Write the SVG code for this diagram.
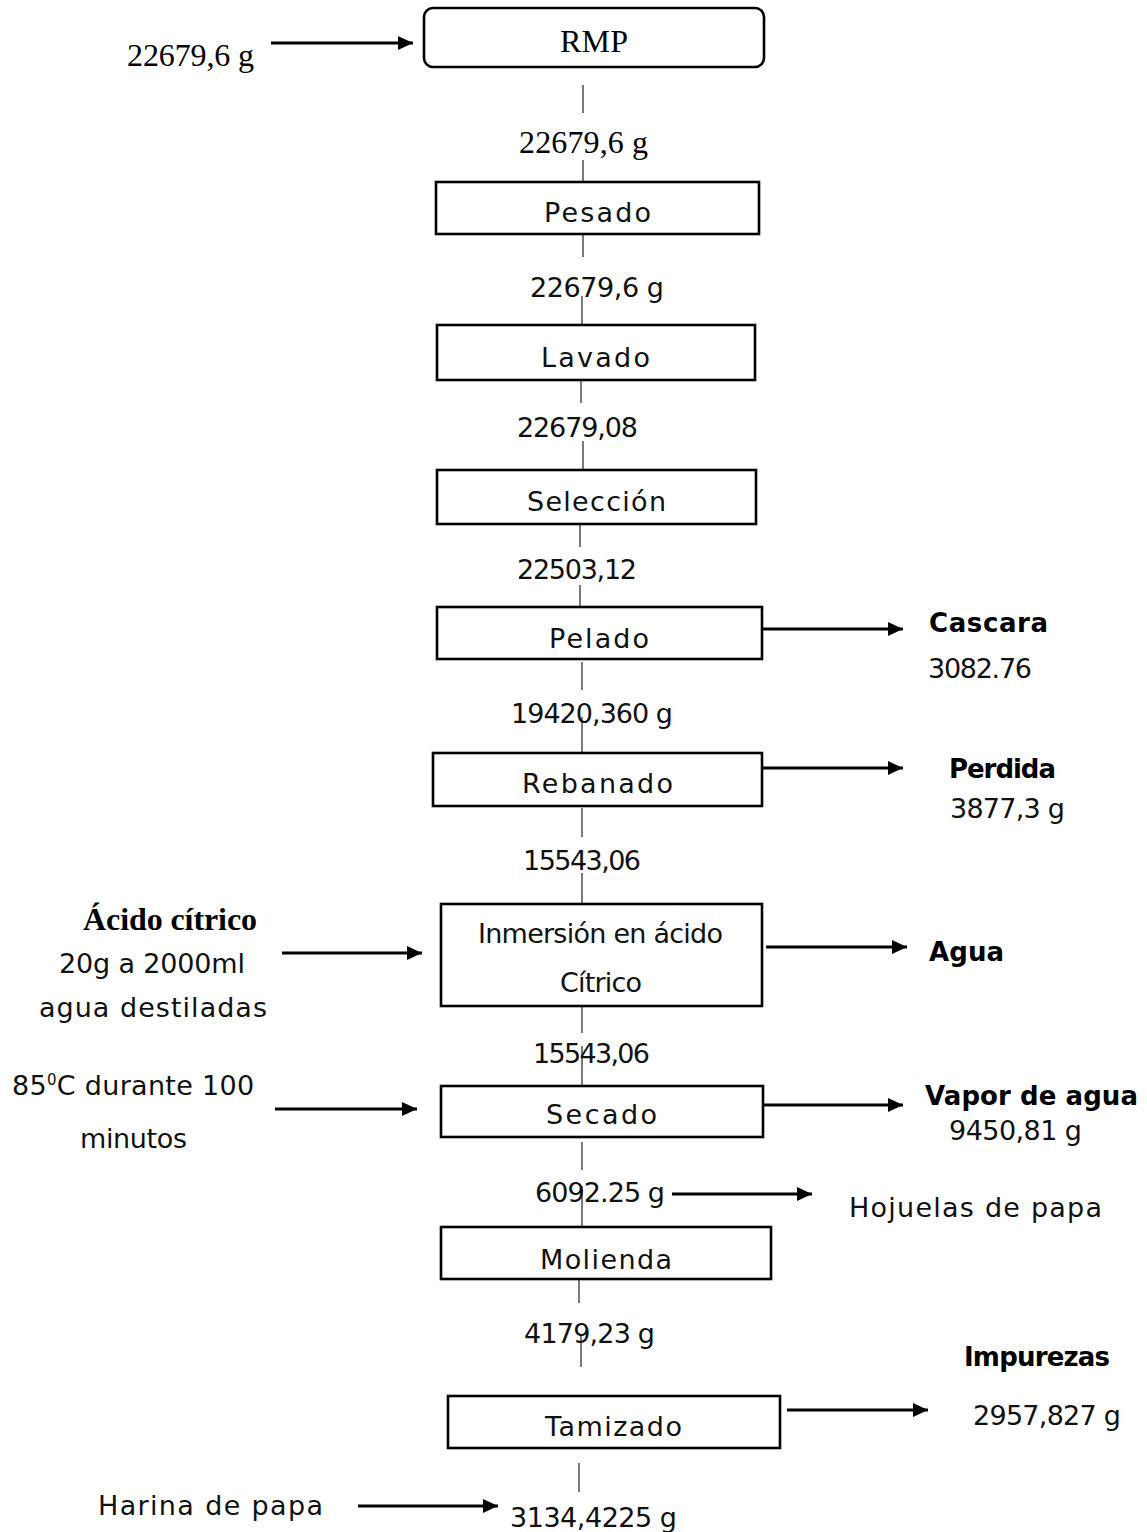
<svg xmlns="http://www.w3.org/2000/svg" width="1147" height="1532" viewBox="0 0 1147 1532">
<style>
.box{fill:#fff;stroke:#000;stroke-width:2.6}
.t{font-family:"DejaVu Sans","Liberation Sans",sans-serif;font-size:27px;fill:#111}
.b{font-family:"DejaVu Sans","Liberation Sans",sans-serif;font-size:26px;font-weight:bold;fill:#000}
.s{font-family:"Liberation Serif","Times New Roman",serif;font-size:32px;fill:#000}
.sb{font-family:"Liberation Serif","Times New Roman",serif;font-size:32px;font-weight:bold;fill:#000}
.v{stroke:#333;stroke-width:1.3;fill:none}
.a{stroke:#000;stroke-width:3;fill:none;marker-end:url(#ah)}
</style>
<defs>
<marker id="ah" markerUnits="userSpaceOnUse" markerWidth="15" markerHeight="14" refX="15" refY="7" orient="auto">
<path d="M0,0 L15,7 L0,14 z" fill="#000"/>
</marker>
<clipPath id="cpPerdida"><rect x="930" y="740" width="170" height="38"/></clipPath>
</defs>
<rect width="1147" height="1532" fill="#fff"/>

<g id="connectors">
<line class="v" x1="583" y1="85" x2="583" y2="113"/>
<line class="v" x1="583" y1="160" x2="583" y2="188"/>
<line class="v" x1="583" y1="228" x2="583" y2="257"/>
<line class="v" x1="582" y1="296" x2="582" y2="328"/>
<line class="v" x1="581" y1="373" x2="581" y2="403"/>
<line class="v" x1="583" y1="441" x2="583" y2="470"/>
<line class="v" x1="580" y1="518" x2="580" y2="547"/>
<line class="v" x1="580" y1="585" x2="580" y2="613"/>
<line class="v" x1="582" y1="662" x2="582" y2="690"/>
<line class="v" x1="582" y1="717" x2="582" y2="753"/>
<line class="v" x1="582" y1="808" x2="582" y2="837"/>
<line class="v" x1="582" y1="873" x2="582" y2="904"/>
<line class="v" x1="582" y1="1004" x2="582" y2="1033"/>
<line class="v" x1="582" y1="1046" x2="582" y2="1086"/>
<line class="v" x1="582" y1="1142" x2="582" y2="1170"/>
<line class="v" x1="582" y1="1186" x2="582" y2="1227"/>
<line class="v" x1="579" y1="1273" x2="579" y2="1303"/>
<line class="v" x1="581" y1="1335" x2="581" y2="1367"/>
<line class="v" x1="579" y1="1463" x2="579" y2="1492"/>
<line class="a" x1="271" y1="43" x2="413" y2="43"/>
<line class="a" x1="762" y1="629" x2="903" y2="629"/>
<line class="a" x1="762" y1="768" x2="903" y2="768"/>
<line class="a" x1="282" y1="953" x2="422" y2="953"/>
<line class="a" x1="766" y1="947" x2="907" y2="947"/>
<line class="a" x1="275" y1="1109" x2="417" y2="1109"/>
<line class="a" x1="763" y1="1105" x2="903" y2="1105"/>
<line class="a" x1="672" y1="1194" x2="812" y2="1194"/>
<line class="a" x1="787" y1="1410" x2="928" y2="1410"/>
<line class="a" x1="358" y1="1506" x2="498" y2="1506"/>
</g>

<g id="input-rmp">
<text class="s" x="127" y="66" textLength="127">22679,6 g</text>
</g>
<g id="node-rmp">
<rect class="box" x="424" y="8" width="340" height="59" rx="9"/>
<text class="s" x="560" y="52" textLength="68">RMP</text>
</g>
<g id="flow-1"><text class="s" x="519" y="153" textLength="129">22679,6 g</text></g>
<g id="node-pesado">
<rect class="box" x="436" y="182" width="323" height="52"/>
<text class="t" x="544" y="222" textLength="107">Pesado</text>
</g>
<g id="flow-2"><text class="t" x="530" y="297" textLength="134">22679,6 g</text></g>
<g id="node-lavado">
<rect class="box" x="437" y="325" width="318" height="55"/>
<text class="t" x="541" y="367" textLength="109">Lavado</text>
</g>
<g id="flow-3"><text class="t" x="517" y="437" textLength="121">22679,08</text></g>
<g id="node-seleccion">
<rect class="box" x="437" y="470" width="319" height="54"/>
<text class="t" x="527" y="511" textLength="139">Selección</text>
</g>
<g id="flow-4"><text class="t" x="517" y="579" textLength="120">22503,12</text></g>
<g id="node-pelado">
<rect class="box" x="437" y="607" width="325" height="52"/>
<text class="t" x="549" y="648" textLength="100">Pelado</text>
</g>
<g id="out-cascara">
<text class="b" x="929" y="632" textLength="119">Cascara</text>
<text class="t" x="928" y="678" textLength="104">3082.76</text>
</g>
<g id="flow-5"><text class="t" x="511" y="723" textLength="162">19420,360 g</text></g>
<g id="node-rebanado">
<rect class="box" x="433" y="753" width="329" height="53"/>
<text class="t" x="522" y="793" textLength="151">Rebanado</text>
</g>
<g id="out-perdida">
<text class="b" x="949" y="778" textLength="107" clip-path="url(#cpPerdida)">Perdida</text>
<text class="t" x="950" y="818" textLength="115">3877,3 g</text>
</g>
<g id="flow-6"><text class="t" x="523" y="870" textLength="118">15543,06</text></g>
<g id="in-acido">
<text class="sb" x="83" y="930" textLength="174">Ácido cítrico</text>
<text class="t" x="59" y="973" textLength="186">20g a 2000ml</text>
<text class="t" x="39" y="1017" textLength="228">agua destiladas</text>
</g>
<g id="node-inmersion">
<rect class="box" x="441" y="904" width="321" height="102"/>
<text class="t" x="478" y="943" textLength="245">Inmersión en ácido</text>
<text class="t" x="560" y="992" textLength="82">Cítrico</text>
</g>
<g id="out-agua"><text class="b" x="929" y="961" textLength="75">Agua</text></g>
<g id="flow-7"><text class="t" x="533" y="1063" textLength="117">15543,06</text></g>
<g id="in-secado">
<text class="t" x="12" y="1095" letter-spacing="0.3">85<tspan font-size="15" dy="-10">0</tspan><tspan dy="10">C durante 100</tspan></text>
<text class="t" x="80" y="1148" textLength="107">minutos</text>
</g>
<g id="node-secado">
<rect class="box" x="441" y="1086" width="322" height="51"/>
<text class="t" x="546" y="1124" textLength="111">Secado</text>
</g>
<g id="out-vapor">
<text class="b" x="925" y="1105" textLength="213">Vapor de agua</text>
<text class="t" x="949" y="1140" textLength="133">9450,81 g</text>
</g>
<g id="flow-8"><text class="t" x="535" y="1202" textLength="130">6092.25 g</text></g>
<g id="out-hojuelas"><text class="t" x="849" y="1217" textLength="253">Hojuelas de papa</text></g>
<g id="node-molienda">
<rect class="box" x="441" y="1227" width="330" height="52"/>
<text class="t" x="540" y="1269" textLength="132">Molienda</text>
</g>
<g id="flow-9"><text class="t" x="524" y="1343" textLength="131">4179,23 g</text></g>
<g id="out-impurezas">
<text class="b" x="964" y="1366" textLength="146">Impurezas</text>
<text class="t" x="973" y="1425" textLength="148">2957,827 g</text>
</g>
<g id="node-tamizado">
<rect class="box" x="448" y="1396" width="332" height="52"/>
<text class="t" x="545" y="1436" textLength="137">Tamizado</text>
</g>
<g id="label-harina"><text class="t" x="98" y="1515" textLength="225">Harina de papa</text></g>
<g id="flow-10"><text class="t" x="510" y="1527" textLength="167">3134,4225 g</text></g>
</svg>
